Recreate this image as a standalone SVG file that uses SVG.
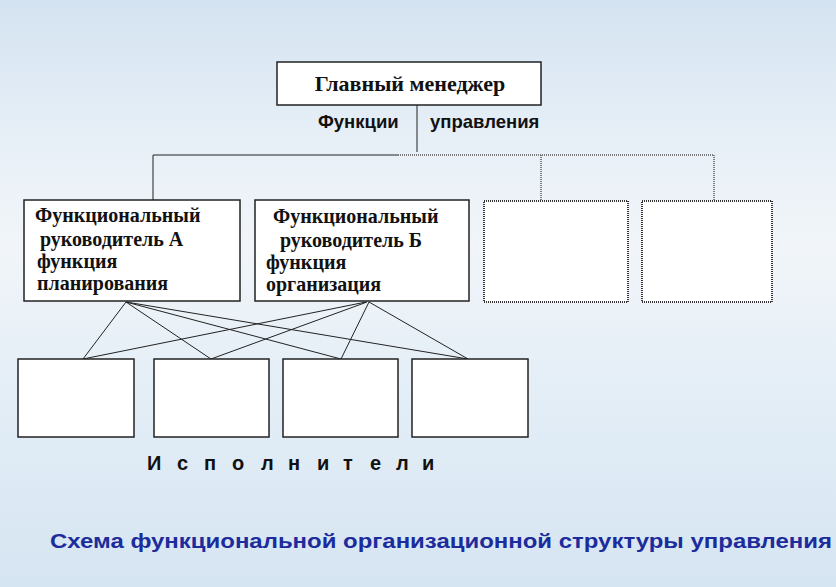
<svg xmlns="http://www.w3.org/2000/svg" width="836" height="587" viewBox="0 0 836 587">
<defs>
<linearGradient id="bg" x1="0" y1="0" x2="0" y2="1">
<stop offset="0" stop-color="#d4e3f1"/>
<stop offset="0.25" stop-color="#e8f0f7"/>
<stop offset="0.42" stop-color="#f1f5f9"/>
<stop offset="0.7" stop-color="#e2edf6"/>
<stop offset="1" stop-color="#d6e5f2"/>
</linearGradient>
<style>
.box{fill:#fff;stroke:#222;stroke-width:1.5}
.dbox{fill:#fff;stroke:#333;stroke-width:2;stroke-dasharray:1 1}
.ln{stroke:#222;stroke-width:1;fill:none}
.dln{stroke:#555;stroke-width:1.5;stroke-dasharray:1 1;fill:none}
.serif{font-family:"Liberation Serif","Times New Roman",serif;font-weight:bold;fill:#111}
.sans{font-family:"Liberation Sans",Arial,sans-serif;font-weight:bold;fill:#111}
</style>
</defs>
<rect width="836" height="587" fill="url(#bg)"/>

<g id="connectors">
<line class="ln" x1="417" y1="105" x2="417" y2="152"/>
<polyline class="ln" points="153,200 153,155 398,155"/>
<line class="dln" x1="398" y1="155" x2="714" y2="155"/>
<line class="dln" x1="541" y1="155" x2="541" y2="200"/>
<line class="dln" x1="714" y1="155" x2="714" y2="200"/>
<line class="ln" x1="126" y1="302" x2="83" y2="359"/>
<line class="ln" x1="126" y1="302" x2="211" y2="359"/>
<line class="ln" x1="126" y1="302" x2="341" y2="359"/>
<line class="ln" x1="126" y1="302" x2="468" y2="359"/>
<line class="ln" x1="366" y1="302" x2="83" y2="359"/>
<line class="ln" x1="367" y1="302" x2="211" y2="359"/>
<line class="ln" x1="369" y1="302" x2="341" y2="359"/>
<line class="ln" x1="369" y1="302" x2="468" y2="359"/>
</g>

<g id="main-manager">
<rect class="box" x="277" y="62" width="264" height="43"/>
<text class="serif" x="410" y="91" font-size="22" text-anchor="middle">Главный менеджер</text>
</g>

<g id="label-functions">
<text class="sans" x="318" y="128" font-size="18.5">Функции</text>
<text class="sans" x="430" y="128" font-size="18.5">управления</text>
</g>

<g id="manager-a">
<rect class="box" x="24" y="200" width="216" height="101"/>
<text class="serif" font-size="20">
<tspan x="35" y="222">Функциональный</tspan>
<tspan x="40" y="246">руководитель А</tspan>
<tspan x="37" y="268">функция</tspan>
<tspan x="37" y="290">планирования</tspan>
</text>
</g>

<g id="manager-b">
<rect class="box" x="255" y="200" width="214" height="101"/>
<text class="serif" font-size="20">
<tspan x="273" y="223">Функциональный</tspan>
<tspan x="280" y="247">руководитель Б</tspan>
<tspan x="266" y="269">функция</tspan>
<tspan x="266" y="291">организация</tspan>
</text>
</g>

<g id="empty-1"><rect class="dbox" x="484" y="201" width="144" height="101"/></g>
<g id="empty-2"><rect class="dbox" x="642" y="201" width="130" height="101"/></g>

<g id="exec-1"><rect class="box" x="18" y="359" width="116" height="78"/></g>
<g id="exec-2"><rect class="box" x="154" y="359" width="115" height="78"/></g>
<g id="exec-3"><rect class="box" x="283" y="359" width="115" height="78"/></g>
<g id="exec-4"><rect class="box" x="412" y="359" width="116" height="78"/></g>

<g id="label-executors">
<text class="sans" font-size="20" x="147 177 204 232 261 288 317 343 370 396 422" y="470">Исполнители</text>
</g>

<g id="caption">
<text font-family="'Liberation Sans',Arial,sans-serif" font-weight="bold" font-size="21" fill="#1c2c9c" x="50" y="548" textLength="782" lengthAdjust="spacingAndGlyphs">Схема функциональной организационной структуры управления</text>
</g>
</svg>
